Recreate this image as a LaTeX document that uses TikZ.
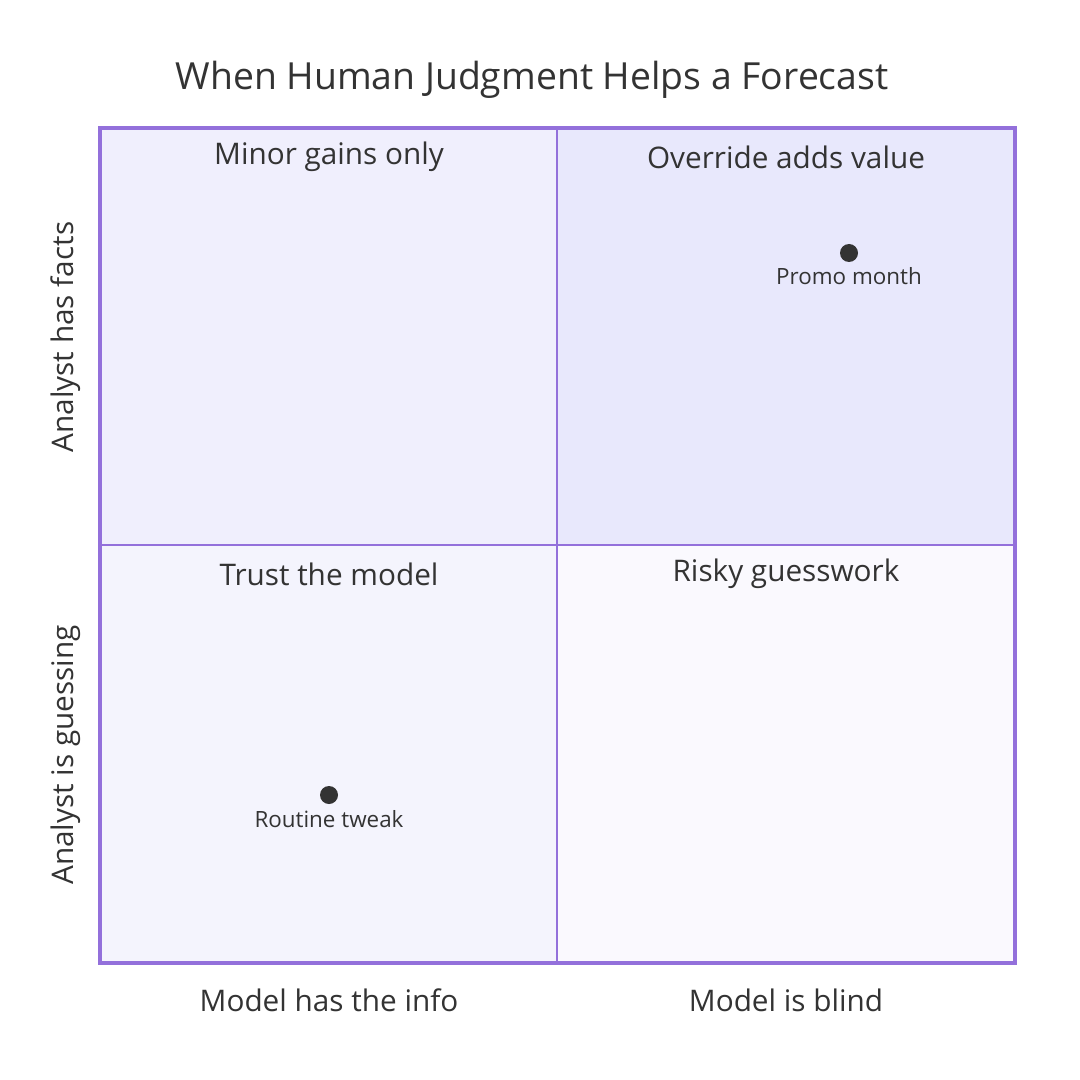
\documentclass[tikz,border=0pt]{standalone}
\usepackage{fontspec}
\setmainfont{Open Sans}
\begin{document}
\begin{tikzpicture}[x=0.75pt,y=-0.75pt,
  ql/.style={font=\fontsize{22.3}{26}\selectfont,text=black!80},
  ax/.style={font=\fontsize{22.3}{26}\selectfont,text=black!80},
  pl/.style={font=\fontsize{16.8}{20}\selectfont,text=black!80},
  pt/.style={circle,fill=black!80,inner sep=0,minimum size=13.5pt}]
\definecolor{brd}{HTML}{9370DB}
\useasboundingbox (0,0) rectangle (1080,1080);
\fill[white] (0,0) rectangle (1080,1080);
\fill[fill={rgb,255:red,240;green,239;blue,253}] (100,128) rectangle (557,545);
\fill[fill={rgb,255:red,232;green,232;blue,252}] (557,128) rectangle (1015,545);
\fill[fill={rgb,255:red,244;green,244;blue,253}] (100,545) rectangle (557,963);
\fill[fill={rgb,255:red,250;green,249;blue,254}] (557,545) rectangle (1015,963);
\draw[brd,line width=1.2pt] (557,128) -- (557,963) (100,545) -- (1015,545);
\draw[brd,line width=2.3pt] (100,128) rectangle (1015,963);
\node[font=\fontsize{28}{32}\selectfont,text=black!80] (t) at (532,80) {When Human Judgment Helps a Forecast};
\node[ql] (q1) at (329,157) {Minor gains only};
\node[ql] (q2) at (786,157) {Override adds value};
\node[ql] (q3) at (329,574) {Trust the model};
\node[ql] (q4) at (786,574) {Risky guesswork};
\node[ax] (x1) at (329,1000) {Model has the info};
\node[ax] (x2) at (786,1000) {Model is blind};
\node[ax,rotate=90] (y1) at (66,337) {Analyst has facts};
\node[ax,rotate=90] (y2) at (66,755) {Analyst is guessing};
\node[pt] (p1) at (849,253) {};
\node[pl] (l1) at (849,276) {Promo month};
\node[pt] (p2) at (329,795) {};
\node[pl] (l2) at (329,819) {Routine tweak};
\end{tikzpicture}
\end{document}
